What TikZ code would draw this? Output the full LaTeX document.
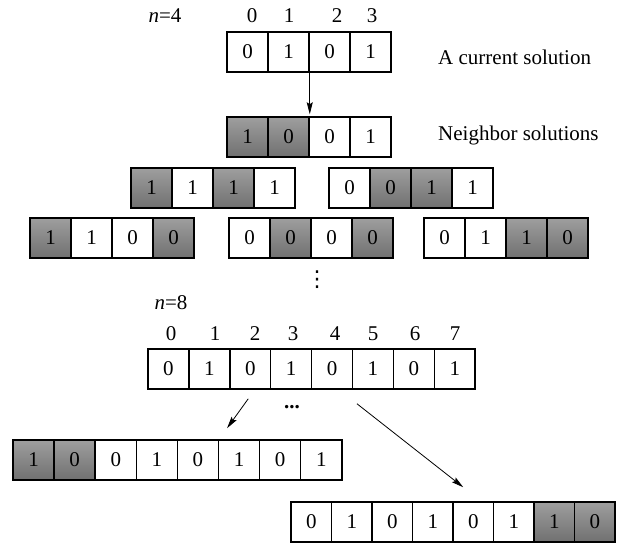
\documentclass[tikz,border=0pt]{standalone}
\usepackage{fontspec}
\setmainfont{Liberation Serif}
\newfontfamily\dotsfont{DejaVu Sans}
\usetikzlibrary{arrows.meta,calc}

% one row of bit cells: name, left x, top y, cell width, list of value/style
\newcommand\cellrow[5]{%
  \foreach \v/\s [count=\k from 0] in {#5} {
    \node[cell,\s,minimum width=#4pt] (#1-\k) at ({#2+#4*\k+#4/2},{#3+20}) {\v};
  }%
}

\tikzset{
  txt/.style={font=\fontsize{21}{25}\selectfont},
  cell/.style={txt, draw, line width=1.5pt, minimum height=40pt, inner sep=0pt},
  dark/.style={top color=black!38, bottom color=black!56},
  light/.style={fill=white},
  idx/.style={txt, anchor=base, inner sep=0pt},
  lbl/.style={txt, anchor=base west, inner sep=0pt},
  link/.style={line width=0.8pt, -{Stealth[length=12pt,width=6pt,inset=2pt]}}
}

\begin{document}
\begin{tikzpicture}[x=1pt,y=-1pt]
  \useasboundingbox (0,0) rectangle (618,543);

  % ---- n = 4 ----
  \node[idx] (n4) at (165,23) {\textit{n}=4};
  \node[idx] (i40) at (252,23) {0};
  \node[idx] (i41) at (289,23) {1};
  \node[idx] (i42) at (337,23) {2};
  \node[idx] (i43) at (372,23) {3};

  \cellrow{a0}{227}{32}{41}{0/light,1/light,0/light,1/light}
  \node[lbl] (cur) at (438,65) {A current solution};

  \cellrow{a1}{227}{117}{41}{1/dark,0/dark,0/light,1/light}
  \node[lbl] (nbr) at (438,140) {Neighbor solutions};

  \cellrow{a2}{131}{168}{41}{1/dark,1/light,1/dark,1/light}
  \cellrow{a3}{329}{168}{41}{0/light,0/dark,1/dark,1/light}

  \cellrow{a4}{30}{218}{41}{1/dark,1/light,0/light,0/dark}
  \cellrow{a5}{229}{218}{41}{0/light,0/dark,0/light,0/dark}
  \cellrow{a6}{424}{218}{41}{0/light,1/light,1/dark,0/dark}

  \draw[link] (a0-1.south east) -- ($(a1-1.north east)+(0,-2)$);

  % vertical ellipsis between the two cases
  \node[inner sep=0pt, font=\dotsfont\fontsize{22}{24}\selectfont] (vd) at (317,280) {⋮};

  % ---- n = 8 ----
  \node[idx] (n8) at (171,309) {\textit{n}=8};
  \foreach \x [count=\j from 0] in {171,215,255,293,335,373,415,455}
    \node[idx] (i8\j) at (\x,340) {\j};

  \cellrow{b0}{148}{349}{40.9}{0/light,1/light,0/light,1/light,0/light,1/light,0/light,1/light}
  \cellrow{b1}{13}{440}{41.1}{1/dark,0/dark,0/light,1/light,0/light,1/light,0/light,1/light}
  \cellrow{b2}{291}{502}{40.5}{0/light,1/light,0/light,1/light,0/light,1/light,1/dark,0/dark}

  \node[txt, inner sep=0pt] (hd) at (292,407) {\textbf{...}};

  \coordinate (s1) at ($(b0-2.south)+(-2,9)$);
  \coordinate (e1) at ($(b1-5.north)+(-12,-11)$);
  \coordinate (s2) at ($(b0-5.south)+(-16,14)$);
  \coordinate (e2) at ($(b2-4.north)+(-10,-14)$);
  \draw[link] (s1) -- (e1);
  \draw[link] (s2) -- (e2);
\end{tikzpicture}
\end{document}
